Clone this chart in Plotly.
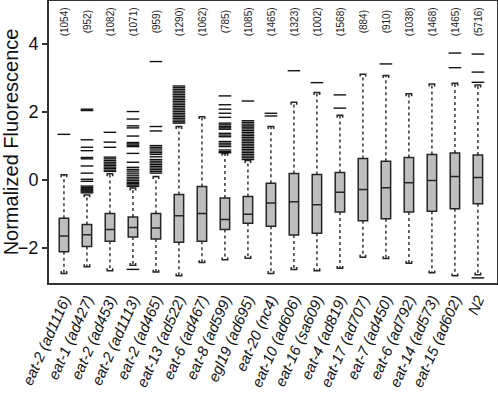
import plotly.graph_objects as go

categories = ["eat-2 (ad1116)", "eat-1 (ad427)", "eat-2 (ad453)", "eat-2 (ad1113)",
              "eat-2 (ad465)", "eat-13 (ad522)", "eat-6 (ad467)", "eat-8 (ad599)",
              "egl19 (ad695)", "eat-20 (nc4)", "eat-10 (ad606)", "eat-16 (sa609)",
              "eat-4 (ad819)", "eat-17 (ad707)", "eat-7 (ad450)", "eat-6 (ad792)",
              "eat-14 (ad573)", "eat-15 (ad602)", "N2"]
counts = [1054, 952, 1082, 1071, 959, 1290, 1062, 785, 1085, 1465,
          1323, 1002, 1568, 884, 910, 1038, 1468, 1465, 5716]
whisker_low = [-2.75, -2.55, -2.67, -2.51, -2.71, -2.82, -2.43, -2.35, -2.30, -2.75,
               -2.63, -2.67, -2.60, -2.27, -2.31, -2.45, -2.73, -2.82, -2.79]
q1 = [-2.11, -1.96, -1.80, -1.68, -1.74, -1.83, -1.80, -1.46, -1.27, -1.36,
      -1.62, -1.57, -0.94, -1.20, -1.14, -0.94, -0.92, -0.85, -0.70]
median = [-1.65, -1.61, -1.46, -1.40, -1.41, -1.05, -0.99, -1.16, -1.01, -0.68,
          -0.64, -0.73, -0.36, -0.28, -0.23, -0.08, -0.02, 0.10, 0.07]
q3 = [-1.13, -1.31, -0.99, -1.09, -0.99, -0.43, -0.19, -0.53, -0.49, -0.10,
      0.19, 0.16, 0.22, 0.63, 0.55, 0.66, 0.75, 0.79, 0.73]
whisker_high = [0.15, -0.44, 0.18, -0.24, 0.10, 1.57, 1.86, 0.78, 0.57, 1.57,
                2.28, 2.57, 1.90, 3.11, 3.07, 2.53, 2.82, 2.84, 2.79]
outliers = [
    [1.34],
    [2.08, 2.04, 1.18, 0.96, 0.86, 0.66, 0.62, 0.41, 0.20, 0.02, -0.04, -0.18, -0.22,
     -0.26, -0.29, -0.32, -0.35, -0.38],
    [1.40, 1.11, 0.96, 0.67, 0.62, 0.57, 0.52, 0.47, 0.43, 0.38, 0.34, 0.29, 0.25],
    [2.01, 1.79, 1.59, 1.53, 1.29, 1.10, 1.06, 1.02, 0.98, 0.78, 0.52, 0.37, 0.31, 0.26,
     0.20, 0.14, 0.08, 0.03, -0.02, -0.07, -0.11, -0.15, -0.19, -2.63],
    [3.48, 1.57, 1.44, 1.01, 0.96, 0.91, 0.85, 0.80, 0.75, 0.68, 0.60, 0.55, 0.50, 0.45,
     0.40, 0.35, 0.30, 0.25, 0.20],
    [2.76, 2.71, 2.66, 2.61, 2.56, 2.51, 2.46, 2.41, 2.36, 2.31, 2.26, 2.21, 2.16, 2.11,
     2.06, 2.01, 1.96, 1.91, 1.86, 1.81, 1.76, 1.71, 1.67],
    [],
    [2.47, 2.21, 2.08, 1.96, 1.84, 1.67, 1.62, 1.57, 1.53, 1.49, 1.37, 1.32, 1.27, 1.13,
     1.08, 1.03, 0.98, 0.88, 0.83, 0.80],
    [2.32, 1.74, 1.69, 1.64, 1.59, 1.55, 1.50, 1.45, 1.40, 1.35, 1.30, 1.25, 1.20, 1.15,
     1.10, 1.05, 1.00, 0.95, 0.90, 0.85, 0.80, 0.75, 0.70, 0.65, 0.60],
    [1.96, 1.88],
    [3.21],
    [2.86],
    [2.50, 2.11],
    [],
    [3.41],
    [],
    [],
    [3.73, 3.30],
    [3.70, 3.17, 2.87, -2.88],
]
y_ticks = [-2, 0, 2, 4]

xpos = list(range(len(categories)))
ink = "#262626"

fig = go.Figure()

# dotted whiskers
wx, wy = [], []
for i in xpos:
    wx += [i, i, None, i, i, None]
    wy += [q1[i], whisker_low[i], None, q3[i], whisker_high[i], None]
fig.add_trace(go.Scatter(x=wx, y=wy, mode="lines", hoverinfo="skip",
                         line=dict(color=ink, width=1.4, dash="dot")))

# staples
cap_half = 0.12
cap_tick = 0.07
cx, cy = [], []
for i in xpos:
    lo, hi = whisker_low[i], whisker_high[i]
    cx += [i - cap_half, i - cap_half, i + cap_half, i + cap_half, None]
    cy += [lo + cap_tick, lo, lo, lo + cap_tick, None]
    cx += [i - cap_half, i - cap_half, i + cap_half, i + cap_half, None]
    cy += [hi - cap_tick, hi, hi, hi - cap_tick, None]
fig.add_trace(go.Scatter(x=cx, y=cy, mode="lines", hoverinfo="skip",
                         line=dict(color=ink, width=1.5)))

# boxes
fig.add_trace(go.Box(x=xpos, q1=q1, median=median, q3=q3, lowerfence=q1, upperfence=q3,
                     width=0.41, whiskerwidth=0, boxpoints=False,
                     fillcolor="#bebebe", line=dict(color=ink, width=1.5)))

# outliers
ox, oy = [], []
for i in xpos:
    for v in outliers[i]:
        ox.append(i)
        oy.append(v)
fig.add_trace(go.Scatter(x=ox, y=oy, mode="markers", hoverinfo="skip",
                         marker=dict(symbol="line-ew", size=9,
                                     line=dict(color="#111111", width=1.4))))

for i in xpos:
    fig.add_annotation(x=i, y=4.66, text=f"({counts[i]})", showarrow=False, textangle=-90,
                       font=dict(family="Liberation Sans, Arial", size=10, color="#222"))

fig.update_layout(
    width=498, height=397,
    margin=dict(l=49, r=1, t=1, b=114, autoexpand=False),
    paper_bgcolor="white", plot_bgcolor="white",
    showlegend=False,
    font=dict(family="Liberation Sans, Arial", color="#111"),
)
fig.update_xaxes(range=[-0.65, 18.83], tickvals=xpos, ticktext=categories, tickangle=-66,
                 ticks="", showgrid=False, zeroline=False, showline=True, mirror=True,
                 linecolor="#333", linewidth=2, automargin=False,
                 tickfont=dict(family="Liberation Sans, Arial", size=15, style="italic", color="#111"))
fig.update_yaxes(range=[-3.03, 5.26], tickvals=y_ticks, ticks="outside", ticklen=5,
                 tickwidth=1.5, tickcolor="#333", showgrid=False, zeroline=False,
                 showline=True, mirror=True, linecolor="#333", linewidth=2, automargin=False,
                 tickfont=dict(family="Liberation Sans, Arial", size=18, color="#111"),
                 title=dict(text="Normalized Fluorescence", standoff=6,
                            font=dict(family="Liberation Sans, Arial", size=20, color="#111")))

fig.write_html("out.html", config={"displayModeBar": False},
               post_script="document.body.style.margin='0';document.body.style.overflow='hidden';")
